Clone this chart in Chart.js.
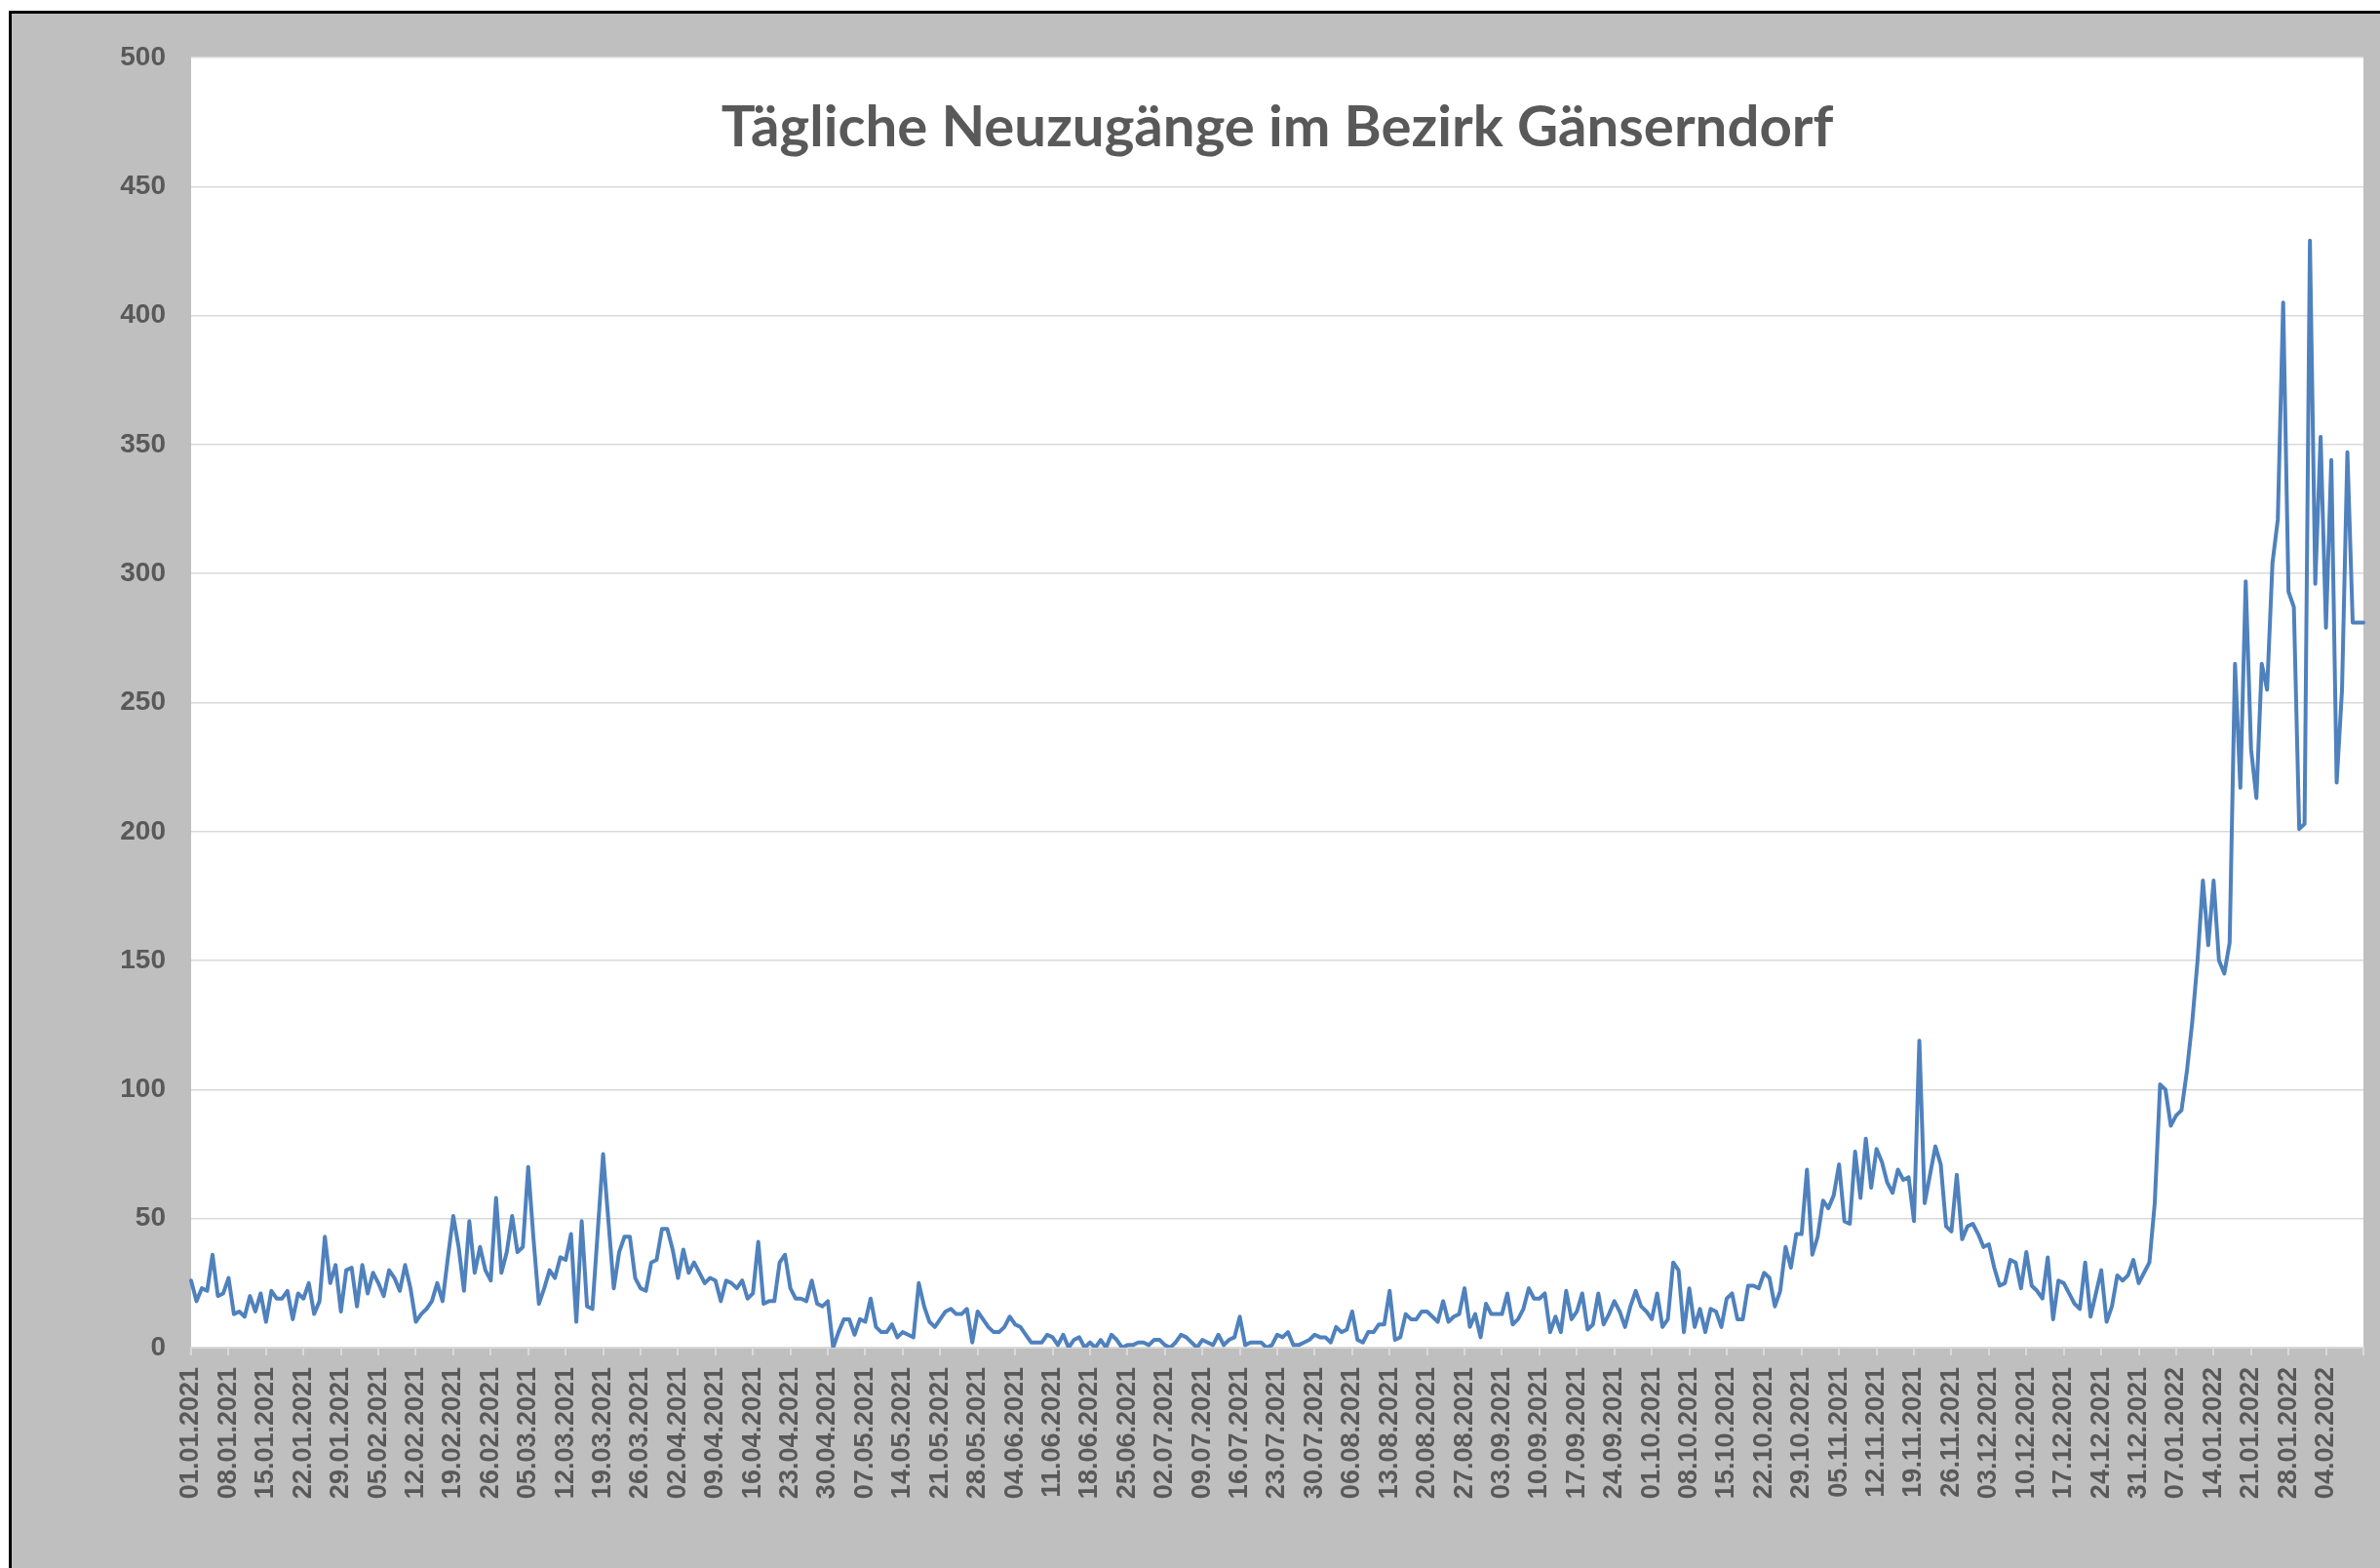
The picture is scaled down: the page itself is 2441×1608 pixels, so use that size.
<!DOCTYPE html>
<html>
<head>
<meta charset="utf-8">
<script src="https://cdn.jsdelivr.net/npm/chart.js@4.4.1/dist/chart.umd.min.js"></script>
<style>
  html, body { margin:0; padding:0; width:2441px; height:1608px; overflow:hidden; background:#ffffff; }
  #frame { position:absolute; left:9px; top:11px; width:2470px; height:1640px; background:#BFBFBF;
           border-left:3px solid #000; border-top:3px solid #000; }
  #chart { position:absolute; left:0; top:0; }
  #title { position:absolute; left:196px; width:2228px; text-align:center; white-space:nowrap;
           font-family:Lato, "Open Sans", sans-serif; font-weight:bold; color:#595959; }
</style>
</head>
<body>
<div id="frame"></div>
<canvas id="chart" width="2441" height="1608"></canvas>
<div id="title"></div>
<script>
// ---- data ----
const titleText = "Tägliche Neuzugänge im Bezirk Gänserndorf";
const startDay = [2021, 1, 1]; // first category: 01.01.2021, one category per day
const dailyNew = [
  26,18,23,22,36,20,21,27,13,14,
  12,20,14,21,10,22,19,19,22,11,
  21,19,25,13,18,43,25,32,14,30,
  31,16,32,21,29,25,20,30,27,22,
  32,23,10,13,15,18,25,18,35,51,
  39,22,49,29,39,30,26,58,29,37,
  51,37,39,70,42,17,23,30,27,35,
  34,44,10,49,16,15,45,75,49,23,
  37,43,43,27,23,22,33,34,46,46,
  38,27,38,29,33,29,25,27,26,18,
  26,25,23,26,19,21,41,17,18,18,
  33,36,23,19,19,18,26,17,16,18,
  0,6,11,11,5,11,10,19,8,6,
  6,9,4,6,5,4,25,16,10,8,
  11,14,15,13,13,15,2,14,11,8,
  6,6,8,12,9,8,5,2,2,2,
  5,4,1,5,0,3,4,0,2,0,
  3,0,5,3,0,1,1,2,2,1,
  3,3,1,0,2,5,4,2,0,3,
  2,1,5,1,3,4,12,1,2,2,
  2,0,1,5,4,6,1,1,2,3,
  5,4,4,2,8,6,7,14,3,2,
  6,6,9,9,22,3,4,13,11,11,
  14,14,12,10,18,10,12,13,23,8,
  13,4,17,13,13,13,21,9,11,15,
  23,19,19,21,6,12,6,22,11,14,
  21,7,9,21,9,13,18,14,8,16,
  22,16,14,11,21,8,11,33,30,6,
  23,8,15,6,15,14,8,19,21,11,
  11,24,24,23,29,27,16,22,39,31,
  44,44,69,36,43,57,54,59,71,49,
  48,76,58,81,62,77,72,64,60,69,
  65,66,49,119,56,67,78,71,47,45,
  67,42,47,48,44,39,40,31,24,25,
  34,33,23,37,24,22,19,35,11,26,
  25,21,17,15,33,12,21,30,10,16,
  28,26,28,34,25,29,33,56,102,100,
  86,90,92,107,126,150,181,156,181,150,
  145,157,265,217,297,232,213,265,255,304,
  321,405,293,287,201,203,429,296,353,279,
  344,219,255,347,281,281,281
];
const yTicks = [0,50,100,150,200,250,300,350,400,450,500];
const labelEvery = 7; // a date label every 7 days

// category labels (one per day)
const pad = n => String(n).padStart(2,'0');
const dateLabels = dailyNew.map((_, i) => {
  const d = new Date(Date.UTC(startDay[0], startDay[1]-1, startDay[2] + i));
  return pad(d.getUTCDate()) + '.' + pad(d.getUTCMonth()+1) + '.' + d.getUTCFullYear();
});

// ---- title ----
const tEl = document.getElementById('title');
tEl.textContent = titleText;
const mc = document.createElement('canvas').getContext('2d');
mc.font = 'bold 100px Lato';
const fs = 100 * 1141 / mc.measureText(titleText).width;
tEl.style.fontSize = fs + 'px';
tEl.style.lineHeight = fs + 'px';
tEl.style.top = (151 - 0.887 * fs) + 'px';

// ---- chart ----
const plotBg = {
  id: 'plotBg',
  beforeDraw(c) {
    const a = c.chartArea, g = c.ctx;
    g.save(); g.fillStyle = '#ffffff';
    g.fillRect(a.left, a.top, a.right - a.left, a.bottom - a.top);
    g.restore();
  }
};

const axisFont = { family: '"Liberation Sans", Arial, sans-serif', weight: 'bold', size: 27 };

new Chart(document.getElementById('chart'), {
  type: 'line',
  data: {
    labels: dateLabels,
    datasets: [{
      data: dailyNew,
      borderColor: '#4F81BD',
      borderWidth: 4,
      pointRadius: 0,
      tension: 0,
      fill: false,
      borderJoinStyle: 'round',
      borderCapStyle: 'round'
    }]
  },
  options: {
    responsive: false,
    animation: false,
    devicePixelRatio: 1,
    layout: { padding: { top: 59, right: 17, left: 0, bottom: 0 } },
    plugins: { legend: { display: false }, tooltip: { enabled: false }, title: { display: false } },
    scales: {
      x: {
        type: 'category',
        offset: false,
        afterBuildTicks: s => { s.ticks = s.ticks.filter(t => t.value % labelEvery === 0); },
        afterFit: s => { s.height = 226; s.paddingLeft = 0; s.paddingRight = 0; },
        grid: { drawOnChartArea: false, drawTicks: true, tickLength: 8, color: '#D9D9D9', lineWidth: 2 },
        border: { display: true, color: '#D9D9D9', width: 2 },
        ticks: {
          autoSkip: false, maxRotation: 90, minRotation: 90, padding: 12,
          color: '#595959', font: axisFont,
          callback: v => (v === dateLabels.length - 1 ? '' : dateLabels[v])
        }
      },
      y: {
        min: 0, max: 500,
        afterBuildTicks: s => { s.ticks = yTicks.map(v => ({ value: v })); },
        afterFit: s => { s.width = 196; s.paddingTop = 0; s.paddingBottom = 0; },
        grid: { color: '#D9D9D9', lineWidth: 1.5, drawTicks: false },
        border: { display: false },
        ticks: { padding: 26, color: '#595959', font: { family: '"Liberation Sans", Arial, sans-serif', weight: 'bold', size: 28 } }
      }
    }
  },
  plugins: [plotBg]
});
</script>
</body>
</html>
